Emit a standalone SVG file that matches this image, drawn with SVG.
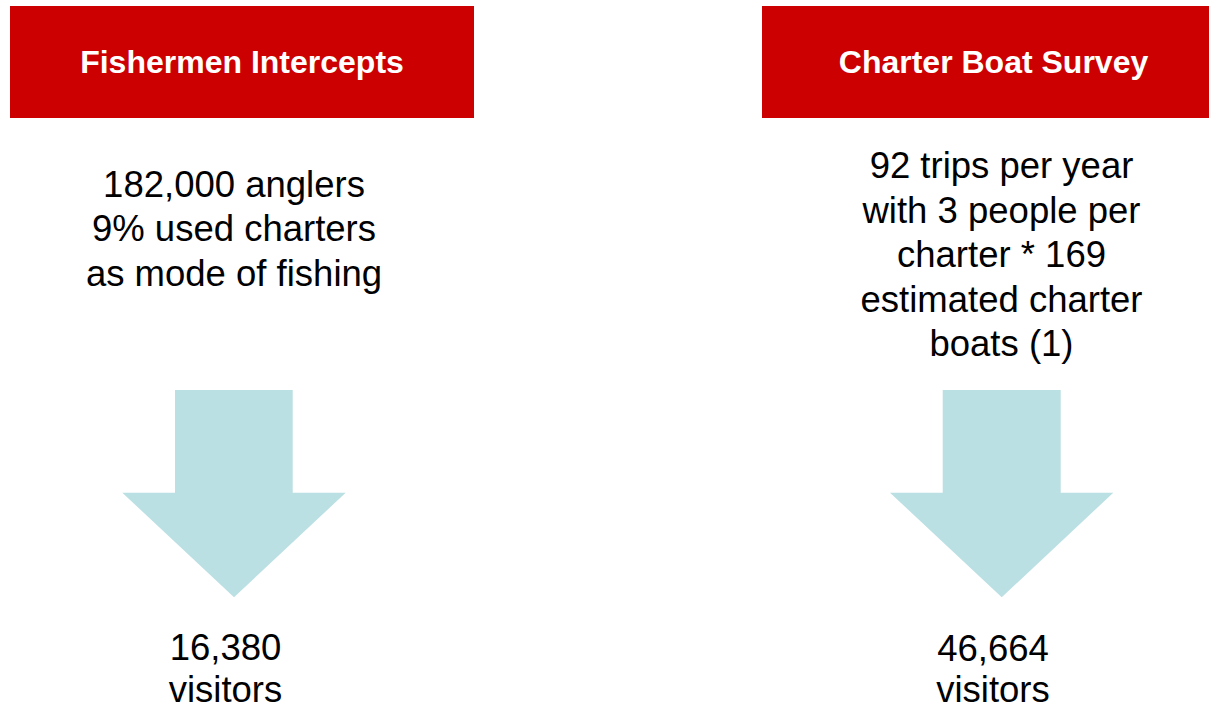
<svg xmlns="http://www.w3.org/2000/svg" width="1209" height="706" viewBox="0 0 1209 706">
  <style>
    .hdr { fill: #CC0000; }
    .hdrtxt { font-family: "Liberation Sans", Arial, sans-serif; font-weight: bold; font-size: 32px; fill: #FFFFFF; text-anchor: middle; }
    .body { font-family: "Liberation Sans", Arial, sans-serif; font-size: 36.5px; fill: #000000; text-anchor: middle; }
    .arrow { fill: #BBE0E3; }
  </style>
  <rect width="1209" height="706" fill="#FFFFFF"/>
  <g id="fishermen-header">
    <rect class="hdr" x="10" y="6" width="464" height="112"/>
    <text class="hdrtxt" x="242" y="73.3">Fishermen Intercepts</text>
  </g>
  <g id="charter-header">
    <rect class="hdr" x="762" y="6" width="447" height="112"/>
    <text class="hdrtxt" x="993.5" y="73.3">Charter Boat Survey</text>
  </g>
  <g id="fishermen-body">
    <text class="body" x="234" y="196.7">182,000 anglers</text>
    <text class="body" x="234" y="241.3">9% used charters</text>
    <text class="body" x="234" y="285.8">as mode of fishing</text>
  </g>
  <g id="charter-body">
    <text class="body" x="1001.5" y="178.3">92 trips per year</text>
    <text class="body" x="1001.5" y="222.7">with 3 people per</text>
    <text class="body" x="1001.5" y="267.2">charter * 169</text>
    <text class="body" x="1001.5" y="311.6">estimated charter</text>
    <text class="body" x="1001.5" y="356">boats (1)</text>
  </g>
  <g id="connectors">
    <polygon class="arrow" points="175,390 292.7,390 292.7,492.7 345.7,492.7 234,597.3 122.3,492.7 175,492.7"/>
    <polygon class="arrow" points="942.7,390 1060.7,390 1060.7,492.7 1113.3,492.7 1001.7,597.3 890,492.7 942.7,492.7"/>
  </g>
  <g id="fishermen-result">
    <text class="body" x="225.5" y="660">16,380</text>
    <text class="body" x="225.5" y="701.5">visitors</text>
  </g>
  <g id="charter-result">
    <text class="body" x="993" y="660.5">46,664</text>
    <text class="body" x="993" y="701.5">visitors</text>
  </g>
</svg>
